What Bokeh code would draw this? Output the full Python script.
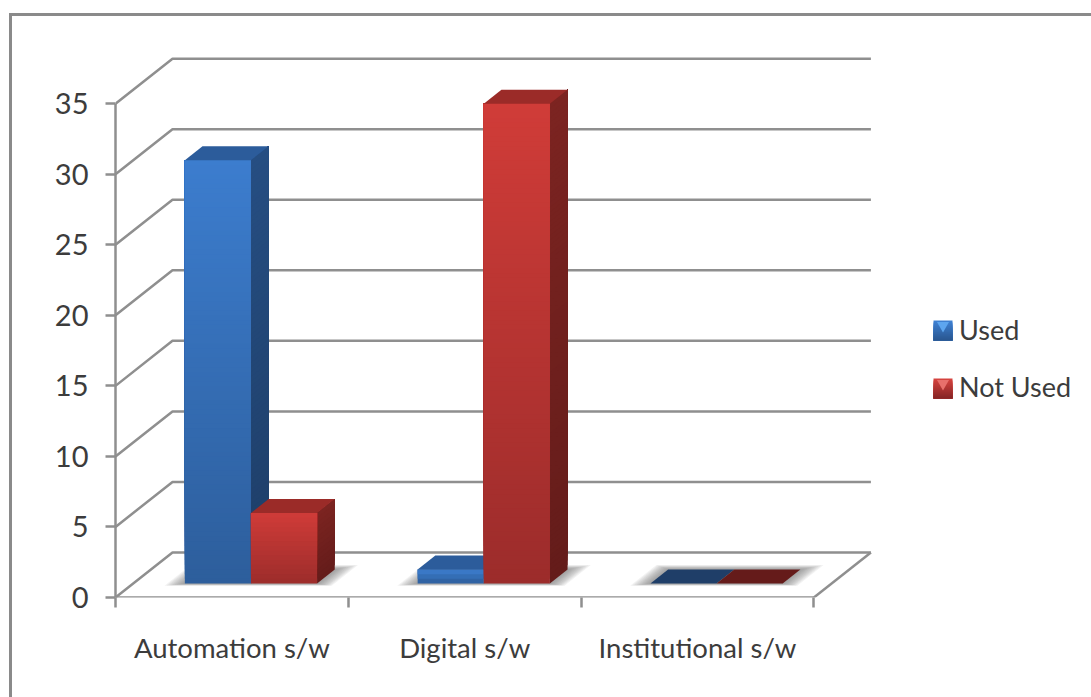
import numpy as np
from bokeh.embed import file_html
from bokeh.models import (FixedTicker, InlineStyleSheet, Legend, LegendItem, Range1d)
from bokeh.plotting import figure
from bokeh.resources import INLINE

# Survey counts
categories = ["Automation s/w", "Digital s/w", "Institutional s/w"]
used = [30, 1, 0]
not_used = [5, 34, 0]
y_ticks = [0, 5, 10, 15, 20, 25, 30, 35]

FONT = "Lato"
TEXT = "#3c3c3c"
AXIS = "#8f8f8f"

# Scale of the drawing surface: pixels for one category and for one count
PX_CAT = 232.8
PX_VAL = 14.11
LEFT, BOTTOM = 115, 100
W, H = 1091, 697

# Oblique projection: how far the full floor depth shifts a point
DEPTH_X = 57 / PX_CAT
DEPTH_Y = 45 / PX_VAL

# Outer chart frame: top and left rules, open past the right and bottom page edges
frame_css = InlineStyleSheet(css="""
:host { position: relative; }
:host::before, :host::after {
  content: ""; position: absolute; background: #8a8a8a; z-index: 5; pointer-events: none;
}
:host::before { left: 8.5px; top: 12.5px; width: 3px; bottom: 0; }
:host::after { left: 8.5px; top: 12.5px; height: 3px; right: 0; }
""")

p = figure(width=W, height=H, output_backend="svg", toolbar_location=None,
           x_range=Range1d(0, (W - LEFT) / PX_CAT),
           y_range=Range1d(0, (H - BOTTOM) / PX_VAL),
           min_border_left=LEFT, min_border_bottom=BOTTOM,
           min_border_top=0, min_border_right=0,
           outline_line_color=None, background_fill_color="white",
           stylesheets=[frame_css])
p.grid.visible = False


def proj(x, v, d):
    """Project category position x, count v and floor depth d onto the plane."""
    return x + d * DEPTH_X, v + d * DEPTH_Y


# Gridlines running up the side wall and across the back wall
wall_x, wall_y = [], []
for t in y_ticks:
    a = proj(0, t, 0)
    b = proj(0, t, 1)
    c = proj(3, t, 1)
    wall_x.append([a[0], b[0], c[0]])
    wall_y.append([a[1], b[1], c[1]])
p.multi_line(wall_x, wall_y, line_color=AXIS, line_width=2.5)

# Floor edge on the right
e0, e1 = proj(3, 0, 0), proj(3, 0, 1)
p.line([e0[0], e1[0]], [e0[1], e1[1]], line_color=AXIS, line_width=2.5)

# Front edge of the floor
p.line([0, 3], [0, 0], line_color=AXIS, line_width=2.5)

BAR_W = 0.284
BAR_X0 = 0.222
D0, D1 = 0.31, 0.62


def mix(c0, c1, t):
    c = [round(a + (b - a) * t) for a, b in zip(c0, c1)]
    return "#%02x%02x%02x" % tuple(c)


BLUE = dict(front=((60, 125, 206), (45, 94, 156)), top=(44, 92, 155),
            side=((38, 78, 130), (30, 62, 104)), flat=(31, 62, 104),
            key=((62, 128, 210), (42, 88, 146)), bevel="#5da5ef")
RED = dict(front=((208, 60, 56), (156, 44, 43)), top=(155, 43, 40),
           side=((124, 36, 33), (100, 28, 26)), flat=(101, 27, 26),
           key=((212, 66, 62), (136, 38, 38)), bevel="#e8706b")


def draw_shadow(i):
    """Soft shadow cast on the floor under a category's pair of bars."""
    x0 = i + BAR_X0
    x1 = x0 + 2 * BAR_W
    for s in np.linspace(1, 0.1, 10):
        gx, gd = 0.075 * s, 0.10 * s
        pts = [proj(x0 - gx, 0, D0 - gd * 0.5), proj(x1 + gx, 0, D0 - gd * 0.5),
               proj(x1 + gx, 0, D1 + gd), proj(x0 - gx, 0, D1 + gd)]
        p.patch([q[0] for q in pts], [q[1] for q in pts],
                fill_color="#6e6e6e", fill_alpha=0.09, line_color=None)


def draw_bar(x0, v, style):
    """Draw one block: front and side shaded in layered steps, then the top."""
    x1 = x0 + BAR_W
    fl, fb = proj(x0, 0, D0)
    fr, _ = proj(x1, 0, D0)
    top_pts = [proj(x0, v, D0), proj(x1, v, D0), proj(x1, v, D1), proj(x0, v, D1)]
    if v == 0:
        p.patch([q[0] for q in top_pts], [q[1] for q in top_pts],
                fill_color=mix(style["flat"], style["flat"], 0), line_color=None)
        return

    # Each step runs from its lower edge to the top of the bar, so no seams show
    n = max(3, int(v * 3))
    edges = np.linspace(0, v, n + 1)
    for k in range(n):
        t = 1 - (k + 0.5) / n
        c = mix(style["side"][0], style["side"][1], t)
        pts = [proj(x1, edges[k], D0), proj(x1, v, D0),
               proj(x1, v, D1), proj(x1, edges[k], D1)]
        p.patch([q[0] for q in pts], [q[1] for q in pts], fill_color=c, line_color=None)
    for k in range(n):
        t = 1 - (k + 0.5) / n
        c = mix(style["front"][0], style["front"][1], t)
        p.quad(left=fl, right=fr, bottom=fb + edges[k], top=fb + v,
               fill_color=c, line_color=None)

    # Top face
    tc = mix(style["top"], style["top"], 0)
    p.patch([q[0] for q in top_pts], [q[1] for q in top_pts], fill_color=tc, line_color=None)


for i in range(len(categories)):
    draw_shadow(i)
for i in range(len(categories)):
    draw_bar(i + BAR_X0, used[i], BLUE)
    draw_bar(i + BAR_X0 + BAR_W, not_used[i], RED)


def draw_key(top_px, style):
    """Shaded legend key with a bright bevel, placed by pixel row on the page."""
    xl, xr = (933 - LEFT) / PX_CAT, (952 - LEFT) / PX_CAT
    base = H - BOTTOM
    for k in range(10):
        c = mix(style["key"][0], style["key"][1], k / 9)
        p.quad(left=xl, right=xr, top=(base - top_px - 2 * k) / PX_VAL,
               bottom=(base - top_px - 20) / PX_VAL, fill_color=c, line_color=None)
    p.scatter([(xl + xr) / 2], [(base - top_px - 5) / PX_VAL], marker="inverted_triangle",
              size=12, line_color=None, fill_color=style["bevel"])


draw_key(320, BLUE)
draw_key(378, RED)

# Axes
y_axis = p.yaxis[0]
y_axis.ticker = FixedTicker(ticks=y_ticks)
y_axis.bounds = (0, 35)
y_axis.axis_line_color = AXIS
y_axis.axis_line_width = 2.5
y_axis.major_tick_line_color = AXIS
y_axis.major_tick_line_width = 2.5
y_axis.major_tick_in = 0
y_axis.major_tick_out = 10
y_axis.minor_tick_line_color = None
y_axis.major_label_text_font = FONT
y_axis.major_label_text_font_size = "29px"
y_axis.major_label_text_color = TEXT
y_axis.major_label_standoff = 17

x_axis = p.xaxis[0]
x_axis.ticker = FixedTicker(ticks=[0.5, 1.5, 2.5], minor_ticks=[0, 1, 2, 3])
x_axis.major_label_overrides = {i + 0.5: c for i, c in enumerate(categories)}
x_axis.bounds = (0, 3)
x_axis.axis_line_color = None
x_axis.major_tick_line_color = None
x_axis.major_tick_in = 0
x_axis.major_tick_out = 0
x_axis.minor_tick_line_color = AXIS
x_axis.minor_tick_line_width = 2.5
x_axis.minor_tick_in = 0
x_axis.minor_tick_out = 10
x_axis.major_label_text_font = FONT
x_axis.major_label_text_font_size = "27.5px"
x_axis.major_label_text_color = TEXT
x_axis.major_label_standoff = 23

# The legend supplies the labels; its shaded keys are drawn underneath it
key_used = p.quad(left=[np.nan], right=[np.nan], bottom=[np.nan], top=[np.nan],
                  fill_alpha=0, line_alpha=0)
key_not = p.quad(left=[np.nan], right=[np.nan], bottom=[np.nan], top=[np.nan],
                 fill_alpha=0, line_alpha=0)
legend = Legend(items=[LegendItem(label="Used", renderers=[key_used]),
                       LegendItem(label="Not Used", renderers=[key_not])],
                location=(818, 194), orientation="vertical",
                border_line_color=None, background_fill_alpha=0,
                glyph_width=18, glyph_height=20, label_standoff=8,
                spacing=24, padding=0, margin=0,
                label_text_font=FONT, label_text_font_size="27px",
                label_text_color=TEXT)
p.add_layout(legend, "center")

open("out.html", "w").write(file_html(p, INLINE))
